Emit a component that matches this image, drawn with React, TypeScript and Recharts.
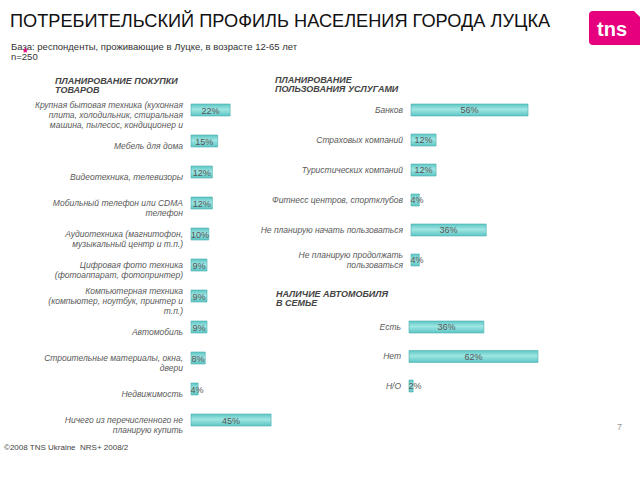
import { BarChart, Bar, XAxis, YAxis, LabelList } from "recharts";

const goodsLabels = [
  "Крупная бытовая техника (кухонная\nплита, холодильник, стиральная\nмашина, пылесос, кондиционер и",
  "Мебель для дома",
  "Видеотехника, телевизоры",
  "Мобильный телефон или CDMA\nтелефон",
  "Аудиотехника (магнитофон,\nмузыкальный центр и т.п.)",
  "Цифровая фото техника\n(фотоаппарат, фотопринтер)",
  "Компьютерная техника\n(компьютер, ноутбук, принтер и\nт.п.)",
  "Автомобиль",
  "Строительные материалы, окна,\nдвери",
  "Недвижимость",
  "Ничего из перечисленного не\nпланирую купить",
];
const goodsValues = [22, 15, 12, 12, 10, 9, 9, 9, 8, 4, 45];

const serviceLabels = [
  "Банков",
  "Страховых компаний",
  "Туристических компаний",
  "Фитнесс центров, спортклубов",
  "Не планирую начать пользоваться",
  "Не планирую продолжать\nпользоваться",
];
const serviceValues = [56, 12, 12, 4, 36, 4];

const carLabels = ["Есть", "Нет", "Н/О"];
const carValues = [36, 62, 2];

const FONT = "'Liberation Sans', Arial, sans-serif";

const makeTick = (shift: number) => (props: any) => {
  const { x, y, payload } = props;
  const lines = String(payload.value).split("\n");
  const lh = 10;
  const y0 = y - ((lines.length - 1) * lh) / 2 + shift;
  return (
    <text
      x={x - 8}
      y={y0}
      textAnchor="end"
      dominantBaseline="central"
      fontFamily={FONT}
      fontSize={8.5}
      fontStyle="italic"
      fill="#5a5a5a"
    >
      {lines.map((l, i) => (
        <tspan key={i} x={x - 8} y={y0 + i * lh}>
          {l}
        </tspan>
      ))}
    </text>
  );
};

const valueLabel = (props: any) => {
  const { x, y, width, height, value } = props;
  const s = `${value}%`;
  const tw = s.length * 5;
  let cx = x + width / 2;
  if (width < tw + 2) cx = x + tw / 2 + 1;
  return (
    <text
      x={cx}
      y={y + height / 2 + 0.5}
      textAnchor="middle"
      dominantBaseline="central"
      fontFamily={FONT}
      fontSize={9}
      fill="#555"
    >
      {s}
    </text>
  );
};

const Panel = ({ labels, values, left, top, axisW, plotW, max, height, shift, id }: any) => {
  const data = labels.map((name: string, i: number) => ({ name, value: values[i] }));
  return (
    <div style={{ position: "absolute", left, top }}>
      <BarChart
        width={axisW + plotW}
        height={height}
        data={data}
        layout="vertical"
        margin={{ top: 0, right: 0, bottom: 0, left: 0 }}
      >
        <defs>
          <linearGradient id={id} x1="0" y1="0" x2="0" y2="1">
            <stop offset="0%" stopColor="#5cc6c4" />
            <stop offset="45%" stopColor="#9fe6e3" />
            <stop offset="100%" stopColor="#5cc6c4" />
          </linearGradient>
        </defs>
        <XAxis type="number" domain={[0, max]} hide />
        <YAxis
          type="category"
          dataKey="name"
          width={axisW}
          axisLine={false}
          tickLine={false}
          tickSize={0}
          tickMargin={0}
          interval={0}
          tick={makeTick(shift)}
        />
        <Bar
          dataKey="value"
          barSize={12}
          fill={`url(#${id})`}
          stroke="#4fb0ae"
          strokeWidth={0.6}
          isAnimationActive={false}
        >
          <LabelList dataKey="value" content={valueLabel} />
        </Bar>
      </BarChart>
    </div>
  );
};

const heading = (lines: string[], x: number, y: number) => (
  <div
    style={{
      position: "absolute",
      left: x,
      top: y,
      fontFamily: FONT,
      fontSize: 9,
      fontWeight: "bold",
      fontStyle: "italic",
      color: "#444",
      lineHeight: "9px",
      whiteSpace: "nowrap",
    }}
  >
    {lines.map((l, i) => (
      <div key={i}>{l}</div>
    ))}
  </div>
);

export default function App() {
  return (
    <div
      style={{
        position: "absolute",
        left: 0,
        top: 0,
        width: 640,
        height: 480,
        background: "#fff",
        overflow: "hidden",
        fontFamily: FONT,
      }}
    >
      <div style={{ position: "absolute", left: 10, top: 11, fontSize: 18.2, color: "#111", whiteSpace: "nowrap" }}>
        ПОТРЕБИТЕЛЬСКИЙ ПРОФИЛЬ НАСЕЛЕНИЯ ГОРОДА ЛУЦКА
      </div>
      <div style={{ position: "absolute", left: 11, top: 42, fontSize: 9.5, color: "#333", lineHeight: "10px", whiteSpace: "nowrap" }}>
        <div>База: респонденты, проживающие в Луцке, в возрасте 12-65 лет</div>
        <div>n=250</div>
      </div>
      <div style={{ position: "absolute", left: 23, top: 46, fontSize: 12, color: "#e0007a", fontWeight: "bold" }}>*</div>
      <svg style={{ position: "absolute", left: 589, top: 11 }} width={51} height={34}>
        <path d="M4 0 H45 L51 6 V34 H4 Q0 34 0 30 V4 Q0 0 4 0 Z" fill="#e6007e" />
        <text x={8} y={25} fontFamily={FONT} fontSize={20} fontWeight="bold" fill="#fff">
          tns
        </text>
      </svg>

      {heading(["ПЛАНИРОВАНИЕ ПОКУПКИ", "ТОВАРОВ"], 55, 77)}
      {heading(["ПЛАНИРОВАНИЕ", "ПОЛЬЗОВАНИЯ УСЛУГАМИ"], 275, 76)}
      {heading(["НАЛИЧИЕ АВТОМОБИЛЯ", "В СЕМЬЕ"], 276, 290)}

      <Panel id="g1" labels={goodsLabels} values={goodsValues} left={0} top={93.5} axisW={191} plotW={89} max={50} height={341} shift={5} />
      <Panel id="g2" labels={serviceLabels} values={serviceValues} left={250} top={95} axisW={161} plotW={125.4} max={60} height={180} shift={0} />
      <Panel id="g3" labels={carLabels} values={carValues} left={250} top={312} axisW={159} plotW={145.6} max={70} height={88.5} shift={0} />

      <div style={{ position: "absolute", left: 617, top: 422, fontSize: 9, color: "#999" }}>7</div>
      <div style={{ position: "absolute", left: 4, top: 443, fontSize: 8, color: "#444", whiteSpace: "nowrap" }}>
        ©2008 TNS Ukraine&nbsp; NRS+ 2008/2
      </div>
    </div>
  );
}
